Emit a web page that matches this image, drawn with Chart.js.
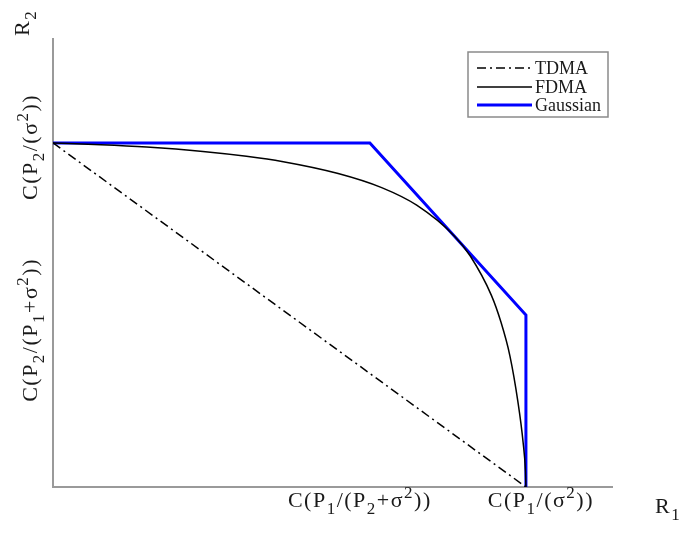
<!DOCTYPE html>
<html><head><meta charset="utf-8">
<script src="https://cdn.jsdelivr.net/npm/chart.js@4/dist/chart.umd.min.js"></script>
<style>html,body{margin:0;padding:0;background:#fff}</style>
</head><body>
<canvas id="c" width="683" height="536"></canvas>
<script>
// ---- data (normalised rates) ----
const seriesNames = ['TDMA', 'FDMA', 'Gaussian'];
const tdmaR1 = [0, 1];
const tdmaR2 = [1, 0];
const fdmaR1 = [0, 0.101, 0.198, 0.317, 0.409, 0.484, 0.603, 0.695, 0.769, 0.849, 0.882, 0.927, 0.947, 0.966, 0.983, 0.994, 0.999, 1];
const fdmaR2 = [1, 0.995, 0.988, 0.975, 0.961, 0.946, 0.911, 0.870, 0.819, 0.729, 0.672, 0.557, 0.480, 0.382, 0.248, 0.130, 0.045, 0];
const gaussR1 = [0, 0.67, 1, 1];
const gaussR2 = [1, 1, 0.5, 0];
const xTickValues = [0.67, 1];
const xTickLabels = ['C(P_1/(P_2+σ^2))', 'C(P_1/(σ^2))'];
const yTickValues = [1, 0.5];
const yTickLabels = ['C(P_2/(σ^2))', 'C(P_2/(P_1+σ^2))'];
const xAxisLabel = 'R_1';
const yAxisLabel = 'R_2';

const toPts = (xs, ys) => xs.map((x, i) => ({x: x, y: ys[i]}));

const FONT = '"Liberation Serif", "Times New Roman", serif';
function segs(s){
  const out=[]; let cur='';
  for(let i=0;i<s.length;i++){
    const ch=s[i];
    if((ch==='_'||ch==='^')&&i+1<s.length){
      if(cur){out.push({t:cur,m:0});cur='';}
      out.push({t:s[i+1],m:ch==='_'?-1:1}); i++;
    } else cur+=ch;
  }
  if(cur) out.push({t:cur,m:0});
  return out;
}
function fontFor(m,F){return (m?Math.round(F*0.78):F)+'px '+FONT;}
function widthOf(ctx,sg,F){let w=0;for(const s of sg){ctx.font=fontFor(s.m,F);w+=ctx.measureText(s.t).width;}return w;}
function drawRich(ctx,str,x,y,F,align,rot,sp){
  ctx.save();
  ctx.letterSpacing=(sp||0)+'px';
  const sg=segs(str); const w=widthOf(ctx,sg,F);
  ctx.translate(x,y); if(rot) ctx.rotate(-Math.PI/2);
  let cx = align==='center'? -w/2 : align==='right'? -w : 0;
  ctx.textBaseline='alphabetic'; ctx.textAlign='left'; ctx.fillStyle='#1a1a1a';
  for(const s of sg){
    ctx.font=fontFor(s.m,F);
    const dy = s.m===-1? F*0.32 : s.m===1? -F*0.42 : 0;
    ctx.fillText(s.t,cx,dy);
    cx+=ctx.measureText(s.t).width;
  }
  ctx.restore();
}

const decor = {
  id:'decor',
  afterDraw(chart){
    const ctx=chart.ctx, xs=chart.scales.x, ys=chart.scales.y;
    const F=22, SP=1.5;
    const xOff=[-10, 15];
    xTickValues.forEach((v,i)=>drawRich(ctx,xTickLabels[i],xs.getPixelForValue(v)+xOff[i],507,F,'center',false,SP));
    const yOff=[4, 15];
    yTickValues.forEach((v,i)=>drawRich(ctx,yTickLabels[i],37,ys.getPixelForValue(v)+yOff[i],F,'center',true,SP));
    drawRich(ctx,xAxisLabel,655,513,F,'left',false,SP);
    drawRich(ctx,yAxisLabel,29,36,F,'left',true,SP);
    // legend
    ctx.save();
    ctx.fillStyle='#fff'; ctx.fillRect(468,52,140,65);
    ctx.strokeStyle='#8a8a8a'; ctx.lineWidth=1.5; ctx.strokeRect(468,52,140,65);
    const rows=[68,87,105];
    chart.data.datasets.forEach((ds,i)=>{
      ctx.beginPath(); ctx.strokeStyle=ds.borderColor; ctx.lineWidth=ds.borderWidth;
      ctx.setLineDash(ds.borderDash||[]);
      ctx.moveTo(477,rows[i]); ctx.lineTo(532,rows[i]); ctx.stroke();
      ctx.setLineDash([]);
      ctx.fillStyle='#1a1a1a'; ctx.font='18px '+FONT; ctx.textBaseline='alphabetic'; ctx.textAlign='left';
      ctx.fillText(ds.label,535,rows[i]+5.5);
    });
    ctx.restore();
  }
};

new Chart(document.getElementById('c'),{
  type:'scatter',
  data:{datasets:[
    {label:seriesNames[0],data:toPts(tdmaR1,tdmaR2),showLine:true,borderColor:'#000',borderWidth:1.5,borderDash:[9,4,2,4],pointRadius:0,fill:false},
    {label:seriesNames[1],data:toPts(fdmaR1,fdmaR2),showLine:true,borderColor:'#000',borderWidth:1.5,pointRadius:0,cubicInterpolationMode:'monotone',fill:false},
    {label:seriesNames[2],data:toPts(gaussR1,gaussR2),showLine:true,borderColor:'#0000ff',borderWidth:3,pointRadius:0,fill:false}
  ]},
  options:{
    responsive:false, animation:false,
    layout:{padding:{left:53,right:71,top:39,bottom:49}},
    plugins:{legend:{display:false},tooltip:{enabled:false}},
    scales:{
      x:{type:'linear',min:0,max:1.182,ticks:{display:false},grid:{display:false,drawTicks:false},border:{display:true,color:'#9a9a9a',width:2}},
      y:{type:'linear',min:0,max:1.302,ticks:{display:false},grid:{display:false,drawTicks:false},border:{display:true,color:'#9a9a9a',width:2}}
    }
  },
  plugins:[decor]
});
</script>
</body></html>
